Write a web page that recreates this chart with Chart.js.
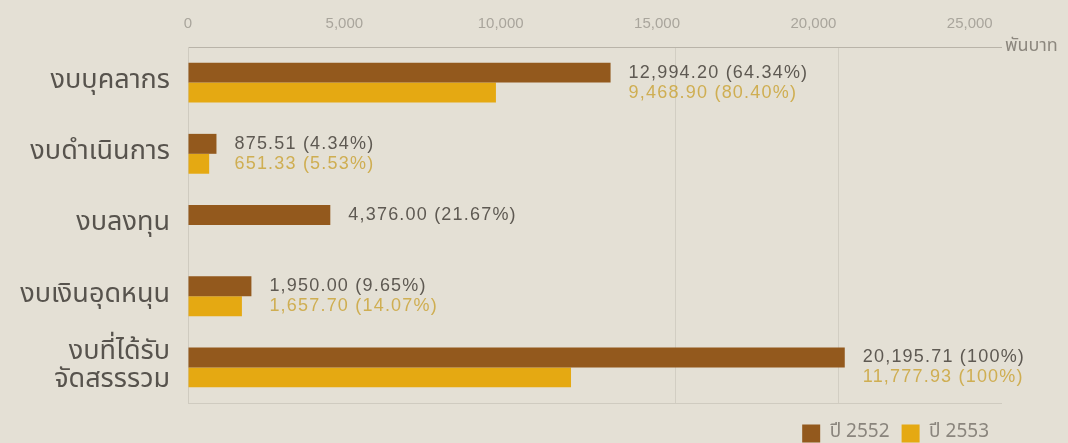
<!DOCTYPE html>
<html>
<head>
<meta charset="utf-8">
<script src="https://cdn.jsdelivr.net/npm/chart.js@4"></script>
<style>
  html, body { margin: 0; padding: 0; background: #e4e0d5; }
  #wrap { width: 1068px; height: 443px; position: relative; }
</style>
</head>
<body>
<div id="wrap"><canvas id="budgetChart"></canvas></div>
<script>
const categories = [
  "งบบุคลากร",
  "งบดำเนินการ",
  "งบลงทุน",
  "งบเงินอุดหนุน",
  ["งบที่ได้รับ", "จัดสรรรวม"],
];
const years = ["ปี 2552", "ปี 2553"];
const budget2552 = [12994.2, 875.51, 4376.0, 1950.0, 20195.71];
const budget2553 = [9468.9, 651.33, null, 1657.7, 11777.93];
const pct2552 = [64.34, 4.34, 21.67, 9.65, 100];
const pct2553 = [80.4, 5.53, null, 14.07, 100];
const tickValues = [0, 5000, 10000, 15000, 20000, 25000];
const unitLabel = "พันบาท";

const thaiFont = '"Noto Sans Thai", "Noto Sans", "DejaVu Sans", sans-serif';

function fmt(v) {
  return v.toLocaleString("en-US", { minimumFractionDigits: 2, maximumFractionDigits: 2 });
}
function fmtPct(p) {
  return (Number.isInteger(p) ? p : p.toFixed(2)) + "%";
}

// value labels to the right of each category's bars
const valueLabels = {
  id: "valueLabels",
  afterDatasetsDraw(chart) {
    const ctx = chart.ctx;
    const pcts = [pct2552, pct2553];
    const colors = ["#5e5952", "#cfae52"];
    const m0 = chart.getDatasetMeta(0).data;
    const m1 = chart.getDatasetMeta(1).data;
    ctx.save();
    ctx.font = '18px "Liberation Sans", Arial, sans-serif';
    ctx.letterSpacing = "1.2px";
    ctx.textBaseline = "middle";
    ctx.textAlign = "left";
    categories.forEach((c, i) => {
      let end = m0[i].x;
      if (budget2553[i] != null) end = Math.max(end, m1[i].x);
      [m0, m1].forEach((meta, d) => {
        const v = chart.data.datasets[d].data[i];
        if (v == null) return;
        ctx.fillStyle = colors[d];
        ctx.fillText(fmt(v) + " (" + fmtPct(pcts[d][i]) + ")", end + 18, meta[i].y);
      });
    });
    ctx.restore();
  },
};

const unitText = {
  id: "unitText",
  afterDraw(chart) {
    const { ctx, chartArea } = chart;
    ctx.save();
    ctx.font = "18px " + thaiFont;
    ctx.fillStyle = "#8c877e";
    ctx.textBaseline = "middle";
    ctx.fillText(unitLabel, chartArea.right + 4, chartArea.top);
    ctx.restore();
  },
};

new Chart(document.getElementById("budgetChart"), {
  type: "bar",
  data: {
    labels: categories,
    datasets: [
      {
        label: years[0],
        data: budget2552,
        backgroundColor: "#93591d",
        categoryPercentage: 0.56,
        barPercentage: 1.0,
      },
      {
        label: years[1],
        data: budget2553,
        backgroundColor: "#e5a912",
        categoryPercentage: 0.56,
        barPercentage: 1.0,
      },
    ],
  },
  options: {
    indexAxis: "y",
    responsive: true,
    maintainAspectRatio: false,
    animation: false,
    layout: { padding: { top: 0, right: 67, bottom: 0, left: 0 } },
    scales: {
      x: {
        position: "bottom",
        min: 0,
        max: 25000,
        afterBuildTicks: (s) => { s.ticks = tickValues.map((v) => ({ value: v })); },
        afterFit: (s) => { s.height = 9; },
        ticks: { display: false },
        grid: {
          drawTicks: false,
          color: (c) => (c.tick && c.tick.value >= 15000 && c.tick.value <= 20000 ? "#d2cec3" : "rgba(0,0,0,0)"),
        },
        border: { display: true, color: "#cfcbc0" },
      },
      xt: {
        type: "linear",
        position: "top",
        min: 0,
        max: 26000,
        afterBuildTicks: (s) => { s.ticks = tickValues.map((v) => ({ value: v })); },
        afterFit: (s) => { s.height = 47; },
        ticks: {
          padding: 14,
          color: "#a9a59c",
          font: { family: '"Liberation Sans", Arial, sans-serif', size: 15 },
          callback: (v) => v.toLocaleString("en-US"),
        },
        grid: { display: false, drawTicks: false },
        border: { display: true, color: "#b9b4a9" },
      },
      y: {
        afterFit: (s) => {
          s.width = 188;
          s.paddingTop = 0;
          s.paddingBottom = 0;
        },
        ticks: {
          padding: 18,
          color: "#57534d",
          font: { family: thaiFont, size: 27, lineHeight: 1.05 },
        },
        grid: { display: false, drawTicks: false },
        border: { display: true, color: "#cfcbc0" },
      },
    },
    plugins: {
      legend: {
        position: "bottom",
        align: "end",
        maxHeight: 31,
        labels: {
          boxWidth: 18,
          boxHeight: 18,
          padding: 12,
          color: "#8a857d",
          font: { family: thaiFont, size: 19 },
        },
      },
      tooltip: { enabled: false },
    },
  },
  plugins: [valueLabels, unitText],
});
</script>
</body>
</html>
